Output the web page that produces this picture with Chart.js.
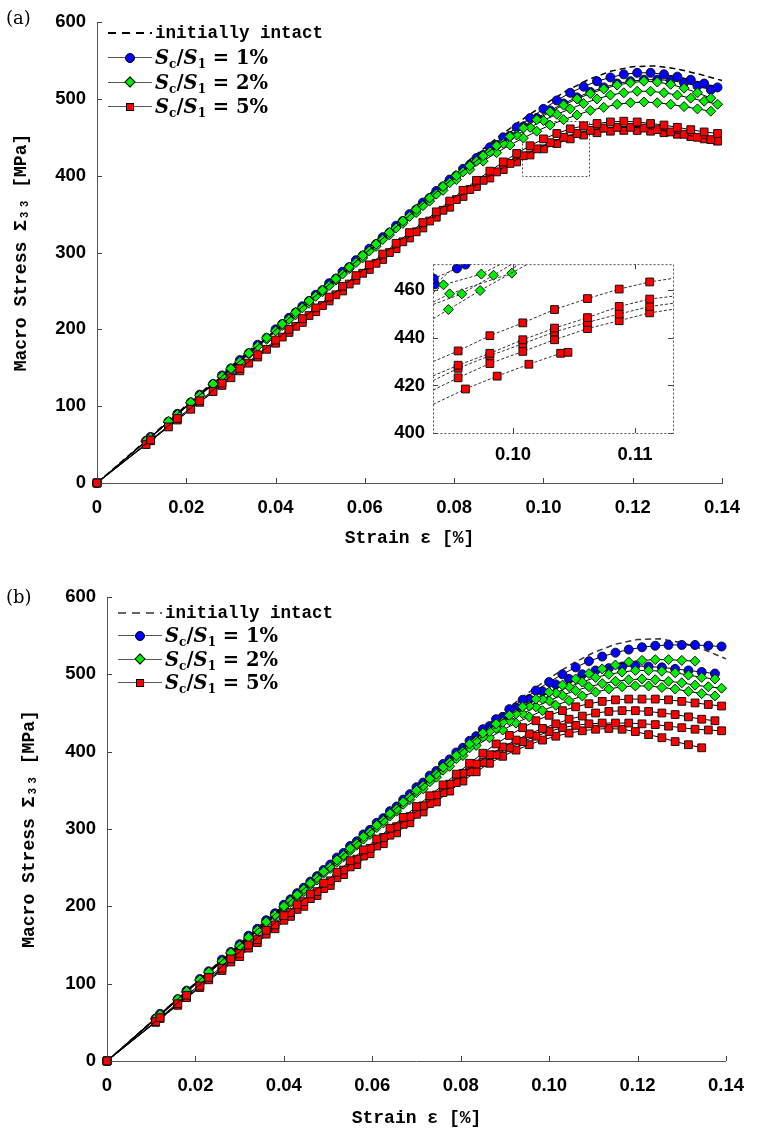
<!DOCTYPE html>
<html>
<head>
<meta charset="utf-8">
<script src="https://cdn.jsdelivr.net/npm/chart.js@4.4.1/dist/chart.umd.min.js"></script>
<style>
  html, body { margin: 0; padding: 0; background: #fff; }
  body { width: 758px; height: 1134px; position: relative; overflow: hidden; }
  canvas { position: absolute; }
  .tag { position: absolute; font-family: 'DejaVu Serif', serif; font-size: 18px; line-height: 20px; }
  .legend { position: absolute; font-family: 'DejaVu Serif', serif; font-weight: bold; font-size: 19.5px; }
  .legend .row { display: flex; align-items: center; white-space: nowrap; }
  .sample { position: relative; width: 44px; height: 1px; background: #555; margin-right: 3px; }
  .sample.dashed { height: 2px; background: repeating-linear-gradient(90deg, #000 0 8px, transparent 8px 14px); }
  .mk { position: absolute; left: 50%; top: 50%; box-sizing: border-box; border: 1px solid #000; }
  .mk.blue { width: 10px; height: 10px; margin: -5px 0 0 -5px; border-radius: 50%; background: #0000ff; }
  .mk.green { width: 8px; height: 8px; margin: -4px 0 0 -4px; transform: rotate(45deg); background: #00ee00; }
  .mk.red { width: 8px; height: 8px; margin: -4px 0 0 -4px; background: #ff0000; }
  .mono { font-family: 'Liberation Mono', monospace; font-size: 17.5px; }
  sub { font-size: 12px; vertical-align: -4px; line-height: 0; font-style: normal; }
</style>
</head>
<body>
<canvas id="chartA" width="758" height="560" style="left:0;top:0"></canvas>
<canvas id="inset" width="340" height="230" style="left:360px;top:245px"></canvas>
<canvas id="chartB" width="758" height="574" style="left:0;top:560px"></canvas>

<div class="tag" style="left:6px;top:8px">(a)</div>
<div class="tag" style="left:6px;top:587px">(b)</div>

<div class="legend" style="left:108px;top:21px">
  <div class="row" style="height:24.5px"><span class="sample dashed"></span><span class="mono">initially intact</span></div>
  <div class="row" style="height:24.5px"><span class="sample"><i class="mk blue"></i></span><span><i>S</i><sub>c</sub>/<i>S</i><sub>1</sub> = 1%</span></div>
  <div class="row" style="height:24.5px"><span class="sample"><i class="mk green"></i></span><span><i>S</i><sub>c</sub>/<i>S</i><sub>1</sub> = 2%</span></div>
  <div class="row" style="height:24.5px"><span class="sample"><i class="mk red"></i></span><span><i>S</i><sub>c</sub>/<i>S</i><sub>1</sub> = 5%</span></div>
</div>
<div class="legend" style="left:118px;top:601px">
  <div class="row" style="height:23.3px"><span class="sample dashed" style="opacity:0.6"></span><span class="mono">initially intact</span></div>
  <div class="row" style="height:23.3px"><span class="sample"><i class="mk blue"></i></span><span><i>S</i><sub>c</sub>/<i>S</i><sub>1</sub> = 1%</span></div>
  <div class="row" style="height:23.3px"><span class="sample"><i class="mk green"></i></span><span><i>S</i><sub>c</sub>/<i>S</i><sub>1</sub> = 2%</span></div>
  <div class="row" style="height:23.3px"><span class="sample"><i class="mk red"></i></span><span><i>S</i><sub>c</sub>/<i>S</i><sub>1</sub> = 5%</span></div>
</div>

<script>
// axis ticks
const X_TICKS = [0, 0.02, 0.04, 0.06, 0.08, 0.10, 0.12, 0.14];
const X_TICK_LABELS = ['0', '0.02', '0.04', '0.06', '0.08', '0.10', '0.12', '0.14'];
const Y_TICKS = [0, 100, 200, 300, 400, 500, 600];
const INSET_X_TICKS = [0.10, 0.11];
const INSET_X_TICK_LABELS = ['0.10', '0.11'];
const INSET_Y_TICKS = [400, 420, 440, 460];
const INSET_X_RANGE = [0.09344, 0.11311];
const INSET_Y_RANGE = [400, 471];
const ZOOM_BOX_X = [0.0952, 0.1102];
const ZOOM_BOX_Y = [400, 471];

// strain sample points (two staggered sets)
const GRID_A = [0, 0.012, 0.018, 0.023, 0.028, 0.032, 0.036, 0.040, 0.043, 0.046, 0.049, 0.052, 0.055, 0.058,
  0.061, 0.064, 0.067, 0.070, 0.073, 0.076, 0.079, 0.082, 0.085, 0.088, 0.091, 0.094, 0.097, 0.100, 0.103,
  0.106, 0.109, 0.112, 0.115, 0.118, 0.121, 0.124, 0.127, 0.130, 0.133, 0.136, 0.139];
const GRID_B = [0, 0.011, 0.016, 0.021, 0.026, 0.030, 0.034, 0.038, 0.0415, 0.0445, 0.0475, 0.0505, 0.0535,
  0.0565, 0.0595, 0.0625, 0.0655, 0.0685, 0.0715, 0.0745, 0.0775, 0.0805, 0.0835, 0.0865, 0.0895, 0.0925,
  0.0955, 0.0985, 0.1015, 0.1045, 0.1075, 0.1105, 0.1135, 0.1165, 0.1195, 0.1225, 0.1255, 0.1285, 0.1315,
  0.1345, 0.1375];
const INTACT_X = [0, 0.02, 0.04, 0.06, 0.08, 0.085, 0.09, 0.095, 0.10, 0.105, 0.11, 0.115, 0.12, 0.125, 0.13, 0.135, 0.14];

// panel (a) stresses [MPa]
const A_INTACT = [0, 101, 202, 303, 404, 428, 451, 472, 492, 510, 525, 536, 542, 543, 539, 532, 524];
const A_BLUE_1 = [0, 60, 90, 115, 140, 160, 180, 200, 215, 230, 245, 260, 275, 290, 305, 320, 335, 350, 365, 380, 395, 409, 423,
  437, 450, 463, 475, 487, 498, 508, 516, 523, 528, 532, 534, 534, 532, 529, 525, 520, 515];
const A_BLUE_2 = [0, 55, 80, 105, 129, 149, 169, 189, 207, 222, 237, 251, 266, 281, 296, 311, 326, 341, 356, 371, 386, 400, 414,
  427, 440, 452, 464, 475, 485, 494, 502, 509, 515, 520, 523, 525, 525, 524, 521, 517, 512];
const A_GREEN_1 = [0, 55, 80, 105, 129, 149, 169, 189, 207, 222, 237, 251, 266, 281, 296, 311, 326, 341, 356, 371, 386, 400, 413,
  426, 439, 451, 462, 473, 483, 492, 500, 507, 513, 518, 521, 523, 522, 519, 514, 508, 501];
const A_GREEN_2 = [0, 59, 89, 114, 139, 158, 178, 198, 213, 228, 243, 257, 272, 287, 302, 317, 332, 347, 361, 376, 391, 405, 419,
  431, 442, 453, 463, 472, 480, 487, 494, 500, 505, 508, 510, 510, 508, 505, 501, 497, 493];
const A_GREEN_3 = [0, 54, 79, 104, 128, 148, 168, 187, 205, 219, 234, 249, 264, 279, 293, 308, 323, 338, 352, 367, 381, 395, 408,
  419, 430, 440, 449, 458, 466, 473, 479, 485, 489, 493, 495, 496, 495, 493, 490, 487, 484];
const A_RED_1 = [0, 56, 84, 107, 130, 149, 167, 186, 200, 214, 228, 242, 256, 270, 284, 298, 312, 326, 339, 353, 367, 381, 394,
  406, 418, 429, 439, 448, 455, 461, 465, 468, 470, 471, 470, 468, 466, 463, 460, 457, 455];
const A_RED_2 = [0, 50, 73, 96, 119, 137, 156, 174, 190, 204, 218, 231, 245, 259, 273, 286, 300, 314, 327, 341, 355, 369, 382,
  394, 405, 416, 426, 435, 443, 450, 455, 459, 462, 463, 463, 462, 460, 457, 454, 450, 447];
const A_RED_3 = [0, 55, 82, 105, 127, 146, 164, 182, 196, 209, 223, 237, 250, 264, 278, 291, 305, 319, 332, 346, 359, 373, 386,
  397, 408, 418, 427, 435, 442, 448, 453, 456, 458, 459, 459, 458, 456, 454, 451, 448, 445];

// panel (b) stresses [MPa]
const B_INTACT = [0, 101, 202, 303, 404, 429, 453, 475, 495, 513, 528, 539, 545, 546, 541, 532, 520];
const B_BLUE_1 = [0, 61, 91, 116, 141, 162, 182, 202, 217, 232, 247, 263, 278, 293, 308, 323, 338, 354, 369, 384, 399, 414, 429,
  442, 455, 467, 479, 490, 500, 509, 517, 523, 528, 532, 535, 537, 538, 538, 538, 537, 536];
const B_BLUE_2 = [0, 55, 80, 106, 131, 151, 171, 191, 209, 224, 239, 254, 269, 284, 299, 314, 329, 345, 360, 375, 390, 405, 420,
  433, 445, 457, 468, 478, 487, 494, 500, 505, 508, 510, 511, 510, 509, 507, 505, 503, 501];
const B_GREEN_1 = [0, 60, 90, 115, 140, 160, 180, 200, 215, 230, 245, 260, 275, 290, 305, 320, 335, 350, 365, 380, 395, 410, 424,
  436, 447, 458, 468, 477, 486, 494, 501, 507, 512, 516, 518, 519, 519, 518, 517];
const B_GREEN_2 = [0, 55, 80, 105, 129, 149, 169, 189, 207, 222, 237, 251, 266, 281, 296, 311, 326, 341, 356, 371, 386, 400, 414,
  426, 438, 449, 459, 468, 476, 484, 490, 496, 500, 503, 505, 505, 504, 502, 499, 496, 494];
const B_GREEN_3 = [0, 59, 89, 114, 139, 158, 178, 198, 213, 228, 243, 257, 272, 287, 302, 317, 332, 347, 361, 376, 391, 405, 419,
  430, 440, 449, 458, 466, 473, 479, 484, 488, 491, 493, 494, 493, 491, 489, 486, 484, 482];
const B_GREEN_4 = [0, 54, 79, 104, 128, 148, 168, 187, 205, 219, 234, 249, 264, 279, 293, 308, 323, 338, 352, 367, 381, 395, 408,
  418, 428, 437, 445, 453, 460, 466, 472, 477, 481, 484, 485, 485, 483, 481, 478, 475, 472];
const B_RED_1 = [0, 56, 85, 108, 132, 150, 169, 188, 202, 216, 230, 244, 259, 273, 287, 301, 315, 329, 343, 357, 371, 385, 398,
  410, 421, 431, 440, 447, 453, 458, 462, 465, 467, 468, 468, 468, 467, 465, 463, 461, 459];
const B_RED_2 = [0, 51, 74, 97, 120, 139, 157, 176, 192, 206, 219, 233, 247, 261, 275, 289, 303, 316, 330, 344, 358, 372, 384,
  396, 406, 415, 423, 430, 436, 442, 446, 450, 452, 453, 453, 452, 450, 448, 445, 442, 440];
const B_RED_3 = [0, 55, 82, 105, 128, 146, 164, 182, 196, 210, 223, 237, 251, 265, 278, 292, 306, 319, 333, 347, 360, 374, 386,
  396, 405, 413, 420, 426, 431, 434, 436, 437, 437, 437, 436, 435, 433, 431, 429, 428, 427];
const B_RED_4 = [0, 50, 72, 95, 117, 135, 153, 171, 187, 200, 214, 227, 241, 254, 268, 281, 295, 308, 322, 335, 349, 362, 374,
  385, 394, 402, 409, 415, 420, 424, 427, 429, 430, 429, 426, 422, 418, 413, 409, 405];

// inset of panel (a)
const INSET_X_LONG = [0.09344, 0.0955, 0.0981, 0.1008, 0.1034, 0.1061, 0.1087, 0.1112, 0.11311];
const INSET_RED_1 = [430, 434.5, 440.9, 446.3, 451.9, 456.5, 460.5, 463.5, 465];
const INSET_RED_2 = [424, 428.5, 433.5, 439.2, 444.1, 448.5, 453.2, 456.3, 457.5];
const INSET_RED_3 = [422, 427.2, 432.5, 437.5, 442.5, 446.5, 450, 453.2, 454.5];
const INSET_RED_4 = [418, 423.2, 429.2, 434.3, 439.2, 443.9, 447.2, 450.5, 452];
const INSET_X_SHORT = [0.09344, 0.0961, 0.0987, 0.1013, 0.1039, 0.1045];
const INSET_RED_5 = [412, 418.5, 423.9, 428.9, 433.5, 433.9];
const INSET_GREEN_1_X = [0.09344, 0.0947, 0.0973, 0.1012];
const INSET_GREEN_1 = [448, 451.9, 459.9, 471];
const INSET_GREEN_2_X = [0.09344, 0.0958, 0.0984, 0.0999];
const INSET_GREEN_2 = [454, 458.5, 466.3, 471];
const INSET_GREEN_3_X = [0.09344, 0.0943, 0.0974, 0.0990];
const INSET_GREEN_3 = [459, 462.3, 466.8, 471];
const INSET_GREEN_4_X = [0.09344, 0.0948, 0.0999, 0.1003];
const INSET_GREEN_4 = [455, 458.5, 467.2, 471];
const INSET_BLUE_1_X = [0.09344, 0.0935, 0.0954, 0.0961, 0.0966];
const INSET_BLUE_1 = [464.5, 464.9, 469.2, 470.8, 471];
const INSET_BLUE_2_X = [0.09344, 0.0936, 0.0955];
const INSET_BLUE_2 = [462, 462.5, 471];

const TICK_FONT = { family: "'Liberation Sans', Arial, sans-serif", size: 18.5, weight: 'bold' };
const TITLE_FONT = { family: "'Liberation Mono', 'DejaVu Sans Mono', monospace", size: 18, weight: 'bold' };

const pts = (xs, ys) => ys.map((y, i) => ({ x: xs[i], y: y }));

const STYLE = {
  blue: { pointStyle: 'circle', pointRadius: 4.5, pointBackgroundColor: '#0000ff', order: 3 },
  green: { pointStyle: 'rectRot', pointRadius: 5, pointBackgroundColor: '#00ee00', order: 2 },
  red: { pointStyle: 'rect', pointRadius: 5.5, pointBackgroundColor: '#ff0000', order: 1 },
  intact: { pointRadius: 0, borderDash: [6, 4], borderWidth: 1.5, order: 4 }
};

function series(xs, ys, kind, extra) {
  return Object.assign({
    data: pts(xs, ys),
    borderColor: '#000',
    borderWidth: 1,
    pointBorderColor: '#111',
    pointBorderWidth: 1,
    tension: 0,
    fill: false,
    clip: false
  }, STYLE[kind], extra || {});
}

// inward tick marks on the axes
const inTicks = {
  id: 'inTicks',
  afterDraw(chart, args, opts) {
    const { ctx, chartArea: a, scales: { x, y } } = chart;
    ctx.save();
    ctx.strokeStyle = '#444';
    ctx.lineWidth = 1;
    ctx.beginPath();
    x.ticks.forEach(t => {
      const px = Math.round(x.getPixelForValue(t.value)) + 0.5;
      ctx.moveTo(px, a.bottom); ctx.lineTo(px, a.bottom - 5);
      if (opts.mirror) { ctx.moveTo(px, a.top); ctx.lineTo(px, a.top + 5); }
    });
    y.ticks.forEach(t => {
      const py = Math.round(y.getPixelForValue(t.value)) + 0.5;
      ctx.moveTo(a.left, py); ctx.lineTo(a.left + 5, py);
      if (opts.mirror) { ctx.moveTo(a.right, py); ctx.lineTo(a.right - 5, py); }
    });
    ctx.stroke();
    if (opts.frame) {
      ctx.setLineDash([2, 2]);
      ctx.strokeStyle = '#555';
      ctx.strokeRect(a.left + 0.5, a.top + 0.5, a.right - a.left, a.bottom - a.top);
    }
    ctx.restore();
  }
};

// dotted rectangle marking the zoomed region
const zoomBox = {
  id: 'zoomBox',
  beforeDatasetsDraw(chart, args, opts) {
    if (!opts.show) return;
    const { ctx, scales: { x, y } } = chart;
    const x0 = x.getPixelForValue(ZOOM_BOX_X[0]), x1 = x.getPixelForValue(ZOOM_BOX_X[1]);
    const y0 = y.getPixelForValue(ZOOM_BOX_Y[0]), y1 = y.getPixelForValue(ZOOM_BOX_Y[1]);
    ctx.save();
    ctx.setLineDash([2, 2]);
    ctx.strokeStyle = '#555';
    ctx.lineWidth = 1;
    ctx.strokeRect(Math.round(x0) + 0.5, Math.round(y1) + 0.5, Math.round(x1 - x0), Math.round(y0 - y1));
    ctx.restore();
  }
};

function panelOptions(cfg) {
  return {
    responsive: false,
    animation: false,
    layout: { padding: { top: cfg.padTop, right: cfg.padRight, left: 0, bottom: 0 } },
    plugins: {
      legend: { display: false },
      tooltip: { enabled: false },
      inTicks: { mirror: !!cfg.frame, frame: !!cfg.frame },
      zoomBox: { show: !!cfg.zoomBox }
    },
    scales: {
      x: {
        type: 'linear',
        min: cfg.xRange[0], max: cfg.xRange[1],
        afterBuildTicks: s => { s.ticks = cfg.xTicks.map(v => ({ value: v })); },
        afterFit: s => { s.height = cfg.xHeight; },
        grid: { display: false, drawTicks: false },
        border: { display: !cfg.frame, dash: [2, 2], color: '#555', width: 1 },
        ticks: {
          autoSkip: false, maxRotation: 0, padding: cfg.xPad, color: '#000', font: TICK_FONT,
          callback: (v, i) => cfg.xLabels[i]
        },
        title: cfg.xTitle ? {
          display: true, text: cfg.xTitle, color: '#000', font: TITLE_FONT,
          padding: { top: 0, bottom: cfg.xTitlePad }
        } : { display: false }
      },
      y: {
        type: 'linear',
        min: cfg.yRange[0], max: cfg.yRange[1],
        afterBuildTicks: s => { s.ticks = cfg.yTicks.map(v => ({ value: v })); },
        afterFit: s => { s.width = cfg.yWidth; },
        grid: { display: false, drawTicks: false },
        border: { display: !cfg.frame, dash: [2, 2], color: '#555', width: 1 },
        ticks: { autoSkip: false, padding: cfg.yPad, color: '#000', font: TICK_FONT },
        title: cfg.yTitle ? {
          display: true, text: cfg.yTitle, color: '#000', font: TITLE_FONT,
          padding: { top: cfg.yTitlePad, bottom: 0 }
        } : { display: false }
      }
    }
  };
}

const mainCfg = {
  xRange: [0, 0.14], yRange: [0, 600],
  xTicks: X_TICKS, xLabels: X_TICK_LABELS, yTicks: Y_TICKS,
  xTitle: 'Strain \u03b5 [%]', yTitle: 'Macro Stress \u03a3\u2083\u2083 [MPa]',
  xPad: 14, yPad: 11
};

new Chart(document.getElementById('chartA'), {
  type: 'line',
  data: {
    datasets: [
      series(INTACT_X, A_INTACT, 'intact'),
      series(GRID_A, A_BLUE_1, 'blue'),
      series(GRID_B, A_BLUE_2, 'blue'),
      series(GRID_B, A_GREEN_1, 'green'),
      series(GRID_A, A_GREEN_2, 'green'),
      series(GRID_B, A_GREEN_3, 'green'),
      series(GRID_A, A_RED_1, 'red'),
      series(GRID_B, A_RED_2, 'red'),
      series(GRID_A, A_RED_3, 'red')
    ]
  },
  options: panelOptions(Object.assign({}, mainCfg, {
    padTop: 18, padRight: 36, xHeight: 77, yWidth: 97, xTitlePad: 11, yTitlePad: 11, zoomBox: true
  })),
  plugins: [inTicks, zoomBox]
});

new Chart(document.getElementById('chartB'), {
  type: 'line',
  data: {
    datasets: [
      series(INTACT_X, B_INTACT, 'intact', { borderColor: '#333' }),
      series(GRID_A, B_BLUE_1, 'blue'),
      series(GRID_B, B_BLUE_2, 'blue'),
      series(GRID_A, B_GREEN_1, 'green'),
      series(GRID_B, B_GREEN_2, 'green'),
      series(GRID_A, B_GREEN_3, 'green'),
      series(GRID_B, B_GREEN_4, 'green'),
      series(GRID_A, B_RED_1, 'red'),
      series(GRID_B, B_RED_2, 'red'),
      series(GRID_A, B_RED_3, 'red'),
      series(GRID_B, B_RED_4, 'red')
    ]
  },
  options: panelOptions(Object.assign({}, mainCfg, {
    padTop: 37, padRight: 23, xHeight: 73, yWidth: 107, xTitlePad: 5, yTitlePad: 19
  })),
  plugins: [inTicks, zoomBox]
});

// inset: edge points carry the line to the frame but get no marker
function insetSeries(xs, ys, kind) {
  const r = STYLE[kind].pointRadius;
  return series(xs, ys, kind, {
    clip: 0,
    borderColor: '#333',
    borderDash: [3, 2],
    pointRadius: c => {
      const p = c.raw;
      const edge = p.x <= INSET_X_RANGE[0] + 1e-6 || p.x >= INSET_X_RANGE[1] - 1e-6 || p.y >= INSET_Y_RANGE[1];
      return edge ? 0 : r;
    }
  });
}

new Chart(document.getElementById('inset'), {
  type: 'line',
  data: {
    datasets: [
      insetSeries(INSET_BLUE_1_X, INSET_BLUE_1, 'blue'),
      insetSeries(INSET_BLUE_2_X, INSET_BLUE_2, 'blue'),
      insetSeries(INSET_GREEN_1_X, INSET_GREEN_1, 'green'),
      insetSeries(INSET_GREEN_2_X, INSET_GREEN_2, 'green'),
      insetSeries(INSET_GREEN_3_X, INSET_GREEN_3, 'green'),
      insetSeries(INSET_GREEN_4_X, INSET_GREEN_4, 'green'),
      insetSeries(INSET_X_LONG, INSET_RED_1, 'red'),
      insetSeries(INSET_X_LONG, INSET_RED_2, 'red'),
      insetSeries(INSET_X_LONG, INSET_RED_3, 'red'),
      insetSeries(INSET_X_LONG, INSET_RED_4, 'red'),
      insetSeries(INSET_X_SHORT, INSET_RED_5, 'red')
    ]
  },
  options: panelOptions({
    xRange: INSET_X_RANGE, yRange: INSET_Y_RANGE,
    xTicks: INSET_X_TICKS, xLabels: INSET_X_TICK_LABELS, yTicks: INSET_Y_TICKS,
    xPad: 11, yPad: 8, padTop: 10, padRight: 27, xHeight: 42, yWidth: 73, frame: true
  }),
  plugins: [inTicks]
});
</script>
</body>
</html>
